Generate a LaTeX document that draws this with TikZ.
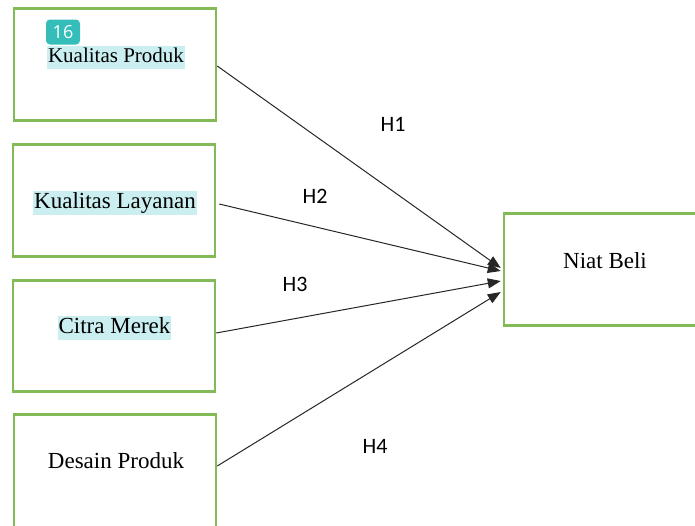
\documentclass[tikz,border=0pt]{standalone}
\usepackage{fontspec}
\setmainfont{Liberation Serif}
\newfontfamily\labelfont{Carlito}
\newfontfamily\badgefont{Open Sans}
\usetikzlibrary{arrows.meta}
\definecolor{boxgreen}{RGB}{130,187,86}
\definecolor{hilite}{RGB}{203,238,240}
\definecolor{badgeteal}{RGB}{52,189,185}
\tikzset{
  varbox/.style={draw=boxgreen, line width=2.5pt, minimum width=202pt, minimum height=112pt, inner sep=0pt},
  vartext/.style={font=\fontsize{23}{26}\selectfont, inner sep=0pt, text height=15.5pt, text depth=5pt},
  hltext/.style={vartext, fill=hilite, inner xsep=1pt, inner ysep=2pt},
  hlabel/.style={font=\labelfont\fontsize{22}{24}\selectfont, inner sep=0pt},
  conn/.style={line width=1pt, draw=black!85, -{Triangle[length=13pt,width=10pt]}},
}
\begin{document}
\begin{tikzpicture}[x=1pt,y=-1pt]
\useasboundingbox (0,0) rectangle (695,525);
\clip (0,0) rectangle (695,525);
% boxes
\node[varbox] (b1) at (115,64.5) {};
\node[varbox] (b2) at (114,200.5) {};
\node[varbox, minimum height=111pt] (b3) at (114,336) {};
\node[varbox, minimum height=113pt] (b4) at (115,471) {};
\node[varbox, minimum width=210pt] (nb) at (609,269.5) {};
% texts
\node[hltext, font=\fontsize{21}{24}\selectfont, text height=14.5pt, text depth=4.5pt] (t1) at (116,57) {Kualitas Produk};
\node[hltext] (t2) at (115,203) {Kualitas Layanan};
\node[hltext] (t3) at (114.5,328) {Citra Merek};
\node[vartext] (t4) at (116,463.5) {Desain Produk};
\node[vartext] (t5) at (605,263.5) {Niat Beli};
% badge
\node[fill=badgeteal, rounded corners=4pt, text=white, font=\badgefont\fontsize{18}{20}\selectfont, minimum width=34pt, minimum height=25pt, inner sep=0pt] (badge) at (63,32) {16};
% connectors
\draw[conn] ([yshift=-1.5pt]b1.east) -- ([xshift=-2pt,yshift=1.5pt]nb.west);
\draw[conn] ([xshift=3pt,yshift=-3.5pt]b2.east) -- ([xshift=-2pt,yshift=-1.5pt]nb.west);
\draw[conn] ([yshift=3pt]b3.east) -- ([xshift=-2pt,yshift=-11.5pt]nb.west);
\draw[conn] ([yshift=5pt]b4.east) -- ([xshift=-2pt,yshift=-22.5pt]nb.west);
% hypothesis labels
\node[hlabel] (h1) at (393,124) {H1};
\node[hlabel] (h2) at (315,196) {H2};
\node[hlabel] (h3) at (295,284) {H3};
\node[hlabel] (h4) at (375,446) {H4};
\end{tikzpicture}
\end{document}
